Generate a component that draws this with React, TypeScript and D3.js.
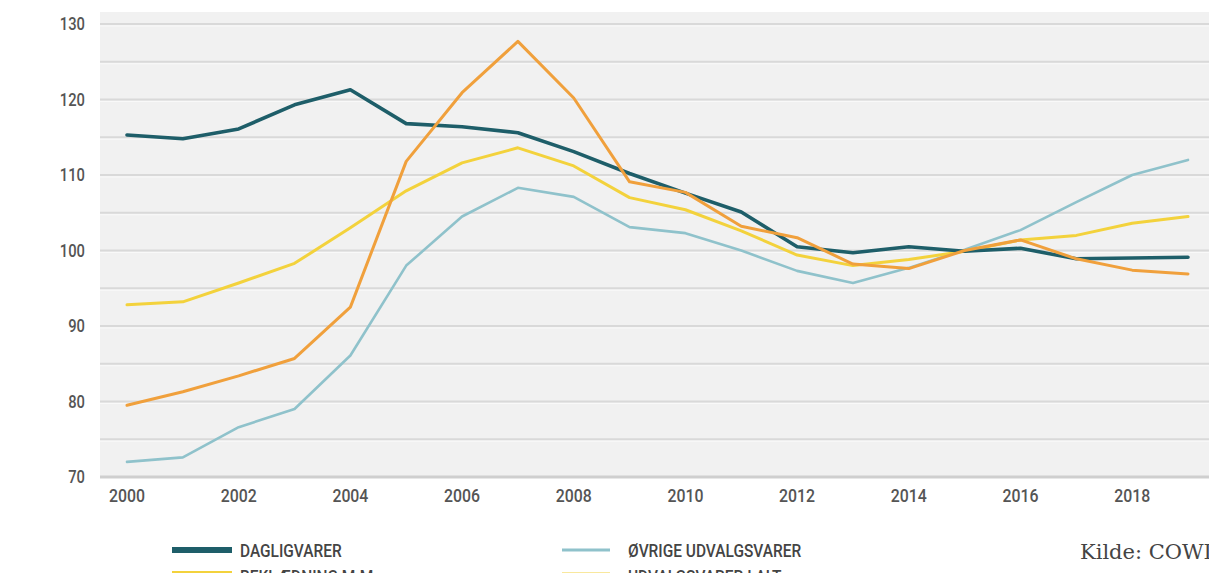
import React from 'react';
import * as d3 from 'd3';

const years = d3.range(2000, 2020);
const dagligvarer = [115.3, 114.8, 116.1, 119.3, 121.3, 116.8, 116.4, 115.6, 113.1, 110.2, 107.6, 105.1, 100.5, 99.7, 100.5, 99.9, 100.3, 98.9, 99.0, 99.1];
const orange = [79.5, 81.3, 83.4, 85.7, 92.5, 111.8, 120.9, 127.7, 120.2, 109.1, 107.7, 103.2, 101.7, 98.2, 97.6, 100.0, 101.4, 98.9, 97.4, 96.9];
const yellow = [92.8, 93.2, 95.7, 98.3, 103.0, 107.9, 111.6, 113.6, 111.2, 107.0, 105.4, 102.6, 99.4, 98.0, 98.8, 99.9, 101.4, 102.0, 103.6, 104.5];
const udvalg = [72.0, 72.6, 76.6, 79.0, 86.1, 98.0, 104.5, 108.3, 107.1, 103.1, 102.3, 100.0, 97.3, 95.7, 97.7, 100.1, 102.7, 106.4, 110.0, 112.0];
const yTicks = [70, 80, 90, 100, 110, 120, 130];
const gridTicks = d3.range(75, 131, 5);
const xTicks = d3.range(2000, 2019, 2);

const series = [
  { name: 'ØVRIGE UDVALGSVARER', values: udvalg, color: '#8fc2cb', width: 2.6 },
  { name: 'UDVALGSVARER I ALT', values: yellow, color: '#f3d23c', width: 3 },
  { name: 'DAGLIGVARER', values: dagligvarer, color: '#1e5e69', width: 3.6 },
  { name: 'BEKLÆDNING M.M.', values: orange, color: '#f0a03c', width: 3 },
];

const narrow = "Roboto, 'Noto Sans', sans-serif";

// squeezed text to mimic the narrow display font of the original
function Narrow(props: { x: number; y: number; anchor?: string; size: number; sx: number; children: React.ReactNode; fill?: string }) {
  const { x, y, anchor = 'start', size, sx, children, fill = '#555' } = props;
  return (
    <text transform={`translate(${x},${y}) scale(${sx},1)`} dy="0.36em" textAnchor={anchor}
      fontFamily={narrow} fontWeight={500} fontSize={size} fill={fill}>{children}</text>
  );
}

export default function App() {
  const W = 1209, H = 573;
  const x = d3.scaleLinear().domain([2000, 2019]).range([127, 1188]);
  const y = d3.scaleLinear().domain([70, 130]).range([477, 24]);
  const line = d3.line<number>().x((d, i) => x(years[i])).y(d => y(d));

  return (
    <svg width={W} height={H} style={{ position: 'absolute', left: 0, top: 0, background: '#fff' }}>
      <rect x={100} y={12} width={W - 100} height={y(70) - 12} fill="#f1f1f1" />
      {gridTicks.map(t => (
        <g key={t}>
          <line x1={100} x2={W} y1={y(t)} y2={y(t)} stroke="#d9d9d9" strokeWidth={2} />
          <line x1={100} x2={W} y1={y(t) + 2} y2={y(t) + 2} stroke="#f9f9f9" strokeWidth={1} />
        </g>
      ))}
      <line x1={100} x2={W} y1={y(70)} y2={y(70)} stroke="#cfcfcf" strokeWidth={3} />
      {yTicks.map(t => (
        <Narrow key={t} x={85} y={y(t)} anchor="end" size={18} sx={0.82}>{t}</Narrow>
      ))}
      {xTicks.map(t => (
        <Narrow key={t} x={x(t)} y={496} anchor="middle" size={18} sx={0.88}>{t}</Narrow>
      ))}
      {series.map(s => (
        <path key={s.name} d={line(s.values) || ''} fill="none" stroke={s.color}
          strokeWidth={s.width} strokeLinejoin="round" strokeLinecap="round" />
      ))}
      {/* legend */}
      <line x1={172} x2={232} y1={550} y2={550} stroke="#1e5e69" strokeWidth={6} />
      <Narrow x={240} y={551} size={18} sx={0.86} fill="#444">DAGLIGVARER</Narrow>
      <line x1={562} x2={610} y1={550} y2={550} stroke="#8fc2cb" strokeWidth={3} />
      <Narrow x={628} y={551} size={18} sx={0.86} fill="#444">ØVRIGE UDVALGSVARER</Narrow>
      <line x1={172} x2={232} y1={574} y2={574} stroke="#f3d23c" strokeWidth={6} />
      <Narrow x={240} y={577} size={18} sx={0.86} fill="#444">BEKLÆDNING M.M.</Narrow>
      <line x1={562} x2={610} y1={574} y2={574} stroke="#f3d23c" strokeWidth={3} />
      <Narrow x={628} y={577} size={18} sx={0.86} fill="#444">UDVALGSVARER I ALT</Narrow>
      <text x={1080} y={559} fontFamily="'DejaVu Serif', serif" fontSize={21} fill="#444">Kilde: COWI</text>
    </svg>
  );
}
